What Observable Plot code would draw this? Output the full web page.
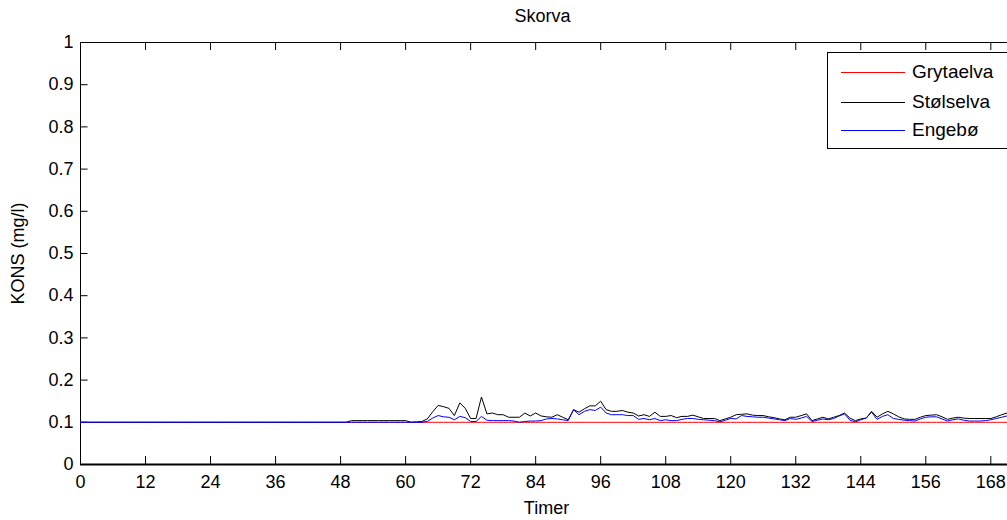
<!DOCTYPE html>
<html>
<head>
<meta charset="utf-8">
<script src="https://cdn.jsdelivr.net/npm/d3@7"></script>
<script src="https://cdn.jsdelivr.net/npm/@observablehq/plot@0.6"></script>
<style>
  html, body { margin: 0; padding: 0; background: #fff; overflow: hidden; }
  #wrap { position: relative; width: 1007px; height: 520px; overflow: hidden; font-family: "Liberation Sans", Arial, sans-serif; }
  #wrap svg { max-width: none !important; display: block; }
  #legend { position: absolute; left: 827px; top: 52px; width: 215px; height: 95px; border: 1px solid #000; background: #fff; }
  .row { position: absolute; left: 0; height: 22px; }
  .sw { position: absolute; left: 13px; width: 64px; top: 11px; height: 0; border-top: 1px solid; }
  .lab { position: absolute; left: 84px; top: 0; font-size: 19px; line-height: 22px; color: #000; white-space: nowrap; }
</style>
</head>
<body>
<div id="wrap"></div>
<script>
// ---- data ----
const title = "Skorva";
const xLabel = "Timer";
const yLabel = "KONS (mg/l)";
const seriesNames = ["Grytaelva", "Stølselva", "Engebø"];
const seriesColors = ["#ff0000", "#000000", "#0000ff"];
const xTicks = [0, 12, 24, 36, 48, 60, 72, 84, 96, 108, 120, 132, 144, 156, 168];
const yTicks = [0, 0.1, 0.2, 0.3, 0.4, 0.5, 0.6, 0.7, 0.8, 0.9, 1];

// hourly values, hour 0..172
const grytaelva = [
  0.1,0.1,0.1,0.1,0.1,0.1,0.1,0.1,0.1,0.1, 0.1,0.1,0.1,0.1,0.1,0.1,0.1,0.1,0.1,0.1,
  0.1,0.1,0.1,0.1,0.1,0.1,0.1,0.1,0.1,0.1, 0.1,0.1,0.1,0.1,0.1,0.1,0.1,0.1,0.1,0.1,
  0.1,0.1,0.1,0.1,0.1,0.1,0.1,0.1,0.1,0.1, 0.1,0.1,0.1,0.1,0.1,0.1,0.1,0.1,0.1,0.1,
  0.1,0.1,0.1,0.1,0.1,0.1,0.1,0.1,0.1,0.1, 0.1,0.1,0.1,0.1,0.1,0.1,0.1,0.1,0.1,0.1,
  0.1,0.1,0.1,0.1,0.1,0.1,0.1,0.1,0.1,0.1, 0.1,0.1,0.1,0.1,0.1,0.1,0.1,0.1,0.1,0.1,
  0.1,0.1,0.1,0.1,0.1,0.1,0.1,0.1,0.1,0.1, 0.1,0.1,0.1,0.1,0.1,0.1,0.1,0.1,0.1,0.1,
  0.1,0.1,0.1,0.1,0.1,0.1,0.1,0.1,0.1,0.1, 0.1,0.1,0.1,0.1,0.1,0.1,0.1,0.1,0.1,0.1,
  0.1,0.1,0.1,0.1,0.1,0.1,0.1,0.1,0.1,0.1, 0.1,0.1,0.1,0.1,0.1,0.1,0.1,0.1,0.1,0.1,
  0.1,0.1,0.1,0.1,0.1,0.1,0.1,0.1,0.1,0.1, 0.1,0.1,0.1
];
const stolselva = [
  // 0-49
  0.1,0.1,0.1,0.1,0.1,0.1,0.1,0.1,0.1,0.1, 0.1,0.1,0.1,0.1,0.1,0.1,0.1,0.1,0.1,0.1,
  0.1,0.1,0.1,0.1,0.1,0.1,0.1,0.1,0.1,0.1, 0.1,0.1,0.1,0.1,0.1,0.1,0.1,0.1,0.1,0.1,
  0.1,0.1,0.1,0.1,0.1,0.1,0.1,0.1,0.1,0.1,
  // 50-59
  0.104,0.104,0.104,0.104,0.104,0.104,0.104,0.104,0.104,0.104,
  // 60-69
  0.104,0.1,0.101,0.102,0.108,0.125,0.14,0.137,0.133,0.116,
  // 70-79
  0.146,0.133,0.109,0.109,0.16,0.12,0.122,0.118,0.118,0.112,
  // 80-89
  0.112,0.112,0.122,0.115,0.122,0.115,0.113,0.112,0.118,0.112,
  // 90-99
  0.106,0.13,0.124,0.132,0.139,0.139,0.15,0.13,0.126,0.126,
  // 100-109
  0.128,0.124,0.122,0.115,0.118,0.114,0.124,0.114,0.114,0.116,
  // 110-119
  0.111,0.114,0.114,0.117,0.113,0.109,0.109,0.109,0.104,0.108,
  // 120-129
  0.112,0.118,0.119,0.12,0.117,0.116,0.116,0.113,0.111,0.108,
  // 130-139
  0.106,0.112,0.112,0.116,0.12,0.104,0.108,0.112,0.108,0.112,
  // 140-149
  0.116,0.122,0.11,0.104,0.108,0.11,0.126,0.112,0.12,0.126,
  // 150-159
  0.12,0.113,0.108,0.107,0.107,0.112,0.116,0.117,0.118,0.113,
  // 160-169
  0.107,0.11,0.112,0.11,0.109,0.109,0.109,0.109,0.109,0.113,
  // 170-172
  0.118,0.122,0.123
];
const engebo = [
  // 0-49
  0.1,0.1,0.1,0.1,0.1,0.1,0.1,0.1,0.1,0.1, 0.1,0.1,0.1,0.1,0.1,0.1,0.1,0.1,0.1,0.1,
  0.1,0.1,0.1,0.1,0.1,0.1,0.1,0.1,0.1,0.1, 0.1,0.1,0.1,0.1,0.1,0.1,0.1,0.1,0.1,0.1,
  0.1,0.1,0.1,0.1,0.1,0.1,0.1,0.1,0.1,0.1,
  // 50-59
  0.1,0.1,0.1,0.1,0.1,0.1,0.1,0.1,0.1,0.1,
  // 60-69
  0.1,0.1,0.1,0.1,0.102,0.11,0.116,0.113,0.112,0.106,
  // 70-79
  0.114,0.111,0.102,0.102,0.114,0.105,0.104,0.104,0.104,0.104,
  // 80-89
  0.103,0.1,0.102,0.103,0.103,0.104,0.108,0.109,0.108,0.106,
  // 90-99
  0.104,0.13,0.118,0.126,0.13,0.128,0.136,0.122,0.118,0.118,
  // 100-109
  0.118,0.116,0.116,0.107,0.109,0.106,0.109,0.104,0.106,0.104,
  // 110-119
  0.104,0.107,0.109,0.109,0.107,0.106,0.105,0.104,0.101,0.105,
  // 120-129
  0.109,0.108,0.116,0.114,0.113,0.112,0.112,0.11,0.108,0.106,
  // 130-139
  0.104,0.109,0.107,0.11,0.114,0.102,0.105,0.108,0.106,0.109,
  // 140-149
  0.115,0.12,0.105,0.101,0.106,0.11,0.124,0.107,0.114,0.118,
  // 150-159
  0.109,0.107,0.105,0.104,0.103,0.108,0.112,0.113,0.113,0.108,
  // 160-169
  0.103,0.106,0.108,0.105,0.103,0.103,0.103,0.104,0.106,0.109,
  // 170-172
  0.112,0.115,0.116
];

// ---- build table ----
const seriesValues = [grytaelva, stolselva, engebo];
const rows = [];
seriesValues.forEach((vals, s) => {
  vals.forEach((v, i) => rows.push({hour: i, value: v, series: seriesNames[s]}));
});

const fmt = d => String(+(+d).toFixed(1));

const chart = Plot.plot({
  width: 1040,
  height: 520,
  marginLeft: 80,
  marginRight: 28,
  marginTop: 42,
  marginBottom: 56,
  style: {fontFamily: "'Liberation Sans', Arial, sans-serif", fontSize: "18px", color: "#000", background: "#fff", overflow: "visible", maxWidth: "none"},
  x: {domain: [0, 172]},
  y: {domain: [0, 1]},
  marks: [
    Plot.frame({stroke: "#000", strokeWidth: 1}),
    Plot.ruleY([0], {stroke: "#000", strokeWidth: 2}),
    // inward ticks
    Plot.ruleX(xTicks, {y1: 0, y2: 0.019, stroke: "#000"}),
    Plot.ruleX(xTicks, {y1: 1, y2: 0.981, stroke: "#000"}),
    Plot.ruleY(yTicks, {x1: 0, x2: 1.4, stroke: "#000"}),
    Plot.axisX({ticks: xTicks, tickSize: 0, tickPadding: 11, fontSize: 18, tickFormat: d => String(d),
      label: xLabel, labelAnchor: "center", labelOffset: 49, labelArrow: "none"}),
    Plot.axisY({ticks: yTicks, tickSize: 0, tickPadding: 7, fontSize: 18, tickFormat: fmt,
      label: yLabel, labelAnchor: "center", labelOffset: 69, labelArrow: "none"}),
    Plot.text([title], {frameAnchor: "top", dx: -4, dy: -33, fontSize: 18, fill: "#000"}),
    Plot.line(rows.filter(d => d.series === seriesNames[0]), {x: "hour", y: "value", stroke: seriesColors[0], strokeWidth: 1}),
    Plot.line(rows.filter(d => d.series === seriesNames[1]), {x: "hour", y: "value", stroke: seriesColors[1], strokeWidth: 1}),
    Plot.line(rows.filter(d => d.series === seriesNames[2]), {x: "hour", y: "value", stroke: seriesColors[2], strokeWidth: 1})
  ]
});

const wrap = document.getElementById("wrap");
wrap.appendChild(chart);

// legend
const legend = document.createElement("div");
legend.id = "legend";
const rowTops = [8, 38, 66];
seriesNames.forEach((name, i) => {
  const r = document.createElement("div");
  r.className = "row";
  r.style.top = rowTops[i] + "px";
  const sw = document.createElement("div");
  sw.className = "sw";
  sw.style.borderTopColor = seriesColors[i];
  const lab = document.createElement("div");
  lab.className = "lab";
  lab.textContent = name;
  r.appendChild(sw);
  r.appendChild(lab);
  legend.appendChild(r);
});
wrap.appendChild(legend);
</script>
</body>
</html>
